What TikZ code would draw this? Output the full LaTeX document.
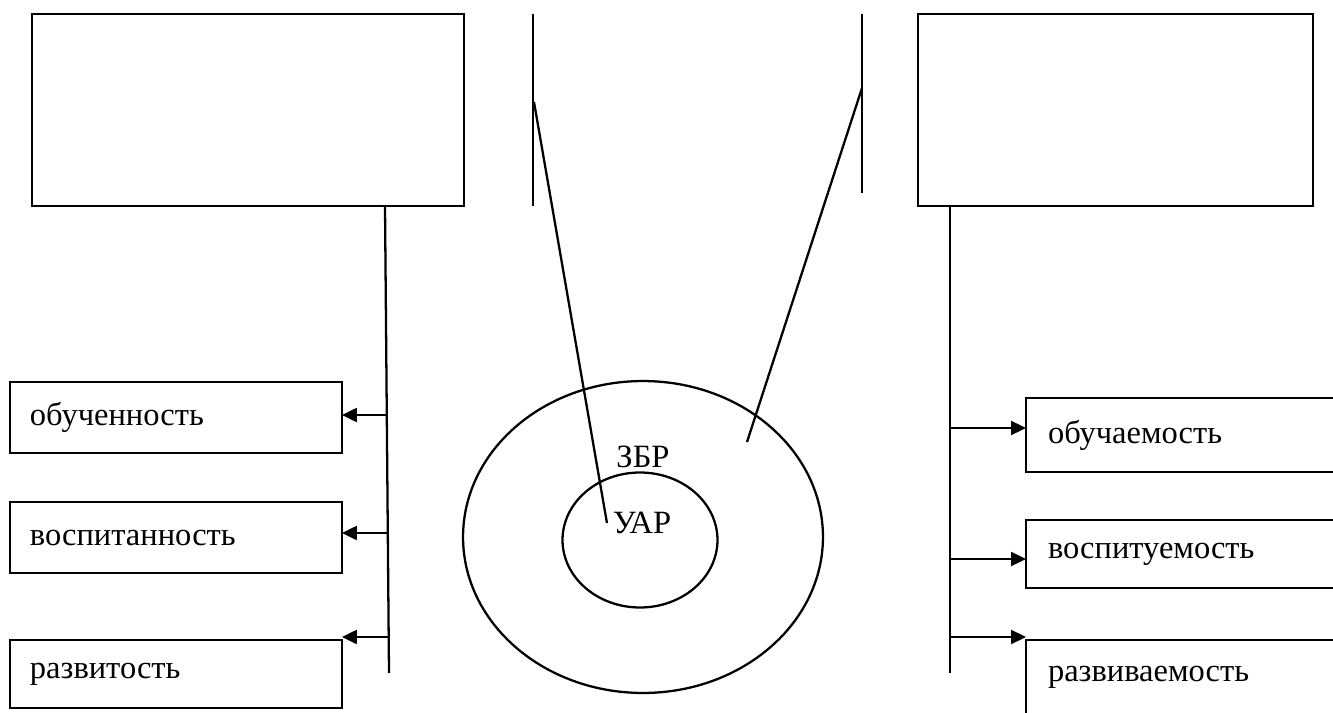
\documentclass[tikz,border=0pt]{standalone}
\usepackage{fontspec}
\setmainfont{Liberation Serif}
\usetikzlibrary{shapes,arrows,arrows.meta,positioning,calc}

\begin{document}
\begin{tikzpicture}[x=0.02cm,y=-0.02cm,line width=1.3pt,
every node/.style={outer sep=0pt,font=\fontsize{18.5}{22}\selectfont}]
\tikzstyle{bigbox}=[draw,minimum height=3.84cm]
\tikzstyle{lbox}=[draw,anchor=west,inner xsep=0.4cm,text width=5.84cm,
align=left,minimum height=1.42cm]
\tikzstyle{rbox}=[draw,anchor=west,inner xsep=0.44cm,text width=6cm,
align=left,minimum height=1.48cm]
\tikzstyle{arr}=[-{Triangle[length=0.3cm,width=0.28cm]}]
\useasboundingbox (0,0) rectangle (1333,713);
\clip (0,0) rectangle (1333,713);
% top boxes
\node (TL) [bigbox,minimum width=8.64cm] at (248,110) {};
\node (TR) [bigbox,minimum width=7.9cm] at (1115.5,110) {};
% left column
\node (ob1) [lbox] at (10,417.5) {обученность};
\node (ob2) [lbox] at (10,537.5) {воспитанность};
\node (ob3) [lbox,minimum height=1.36cm] at (10,674) {развитость};
\coordinate (L1) at (385,206);
\coordinate (L2) at (389,673);
\draw (L1) -- (L2);
\coordinate (la1) at (387,415);
\coordinate (la2) at (388,533);
\coordinate (la3) at (389,637);
\draw [arr] (la1) -- (la1 -| ob1.east);
\draw [arr] (la2) -- (la2 -| ob2.east);
\draw [arr] (la3) -- (la3 -| ob3.east);
% right column
\node (rb1) [rbox] at (1026,435) {обучаемость};
\node (rb2) [rbox,minimum height=1.36cm] at (1026,554) {воспитуемость};
\node (rb3) [rbox] at (1026,677) {развиваемость};
\coordinate (R1) at (950,206);
\coordinate (R2) at (950,673);
\draw (R1) -- (R2);
\coordinate (ra1) at (950,428);
\coordinate (ra2) at (950,559);
\coordinate (ra3) at (950,637);
\draw [arr] (ra1) -- (ra1 -| rb1.west);
\draw [arr] (ra2) -- (ra2 -| rb2.west);
\draw [arr] (ra3) -- (ra3 -| rb3.west);
% zones
\node (zbr) [ellipse,draw,minimum width=7.2cm,minimum height=6.24cm] at (643,537) {};
\node (uar) [ellipse,draw,minimum width=3.1cm,minimum height=2.7cm] at (640,540) {};
\node (zbrlab) at (643,457) {ЗБР};
\node (uarlab) at (642,523) {УАР};
% pointers
\coordinate (P1) at (533,14);
\coordinate (P2) at (533,206);
\coordinate (Q1) at (862,14);
\coordinate (Q2) at (862,193);
\draw (P1) -- (P2) (Q1) -- (Q2);
\draw (534,102) -- (uarlab.west);
\draw (862,88) -- (747,442);
\end{tikzpicture}
\end{document}
